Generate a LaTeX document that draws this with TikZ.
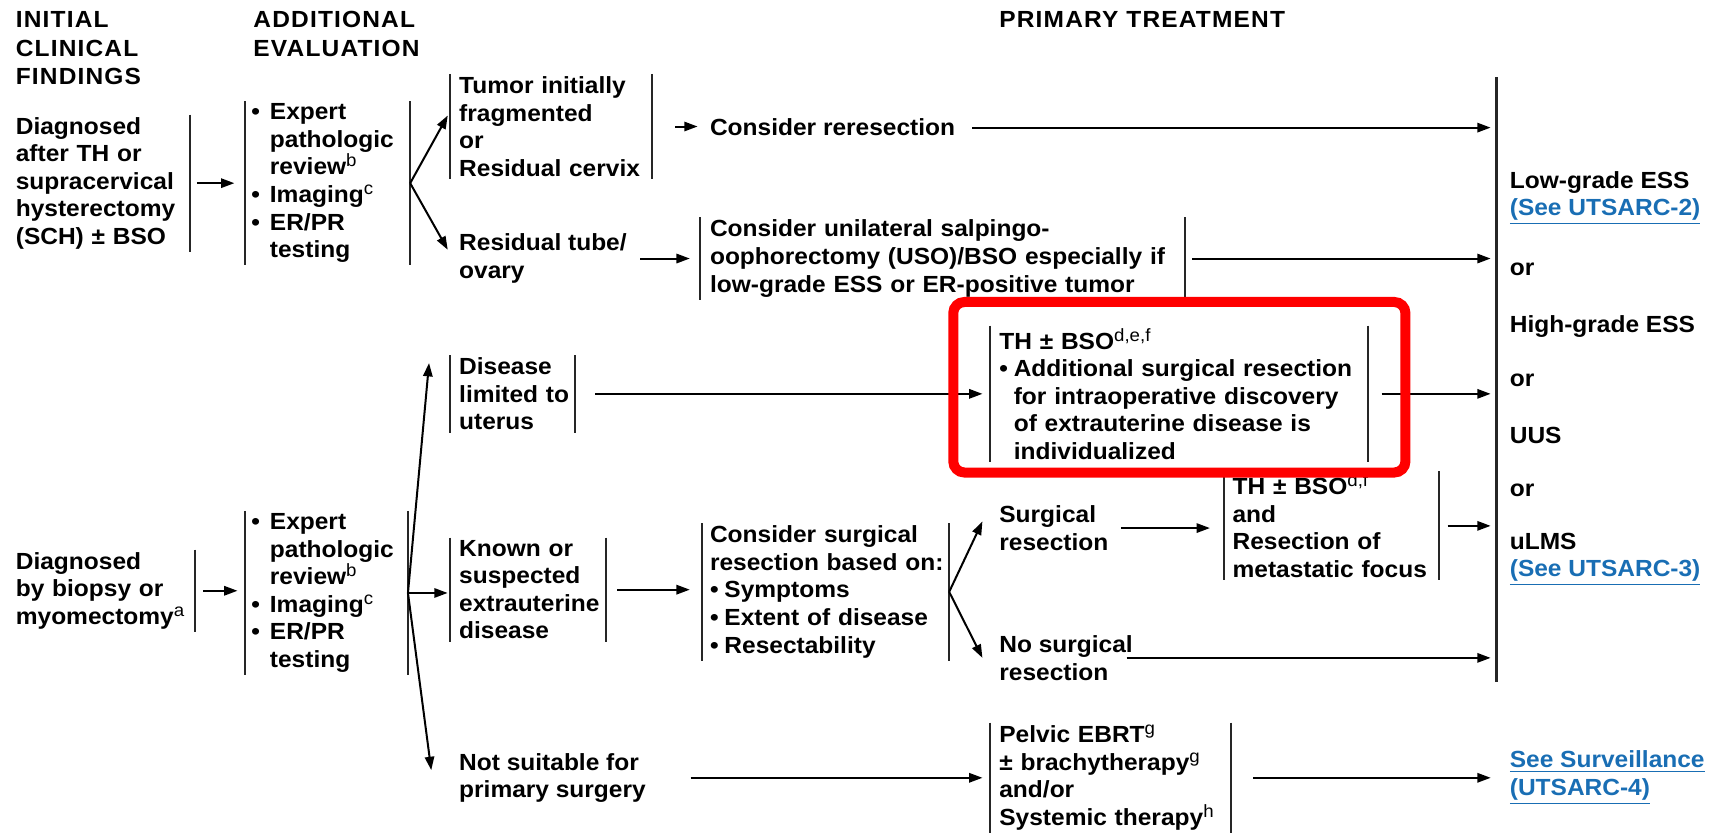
\documentclass[tikz,border=0pt]{standalone}
\usepackage{fontspec}
\setmainfont{Liberation Sans}[FakeStretch=1.05]
\newfontfamily\hdrfont{Liberation Sans}[FakeStretch=1.05,LetterSpace=5]
\usetikzlibrary{arrows.meta,calc}
\definecolor{linkblue}{RGB}{25,110,180}
\definecolor{hlred}{RGB}{255,0,0}
\newcommand{\bul}[1][6.5pt]{\makebox[#1][l]{\textbullet}}
\newcommand{\ind}[1][6.5pt]{\hspace*{#1}}
\newcommand{\sups}[1]{\raisebox{3.6pt}{\normalfont\fontsize{8pt}{8pt}\selectfont #1}}
\newcommand{\lnk}[1]{\textcolor{linkblue}{\underline{#1}}}
\begin{document}
\begin{tikzpicture}[x=0.495pt,y=-0.495pt,
  every node/.style={font=\fontsize{10.5pt}{12.4pt}\selectfont\bfseries},
  hdr/.style={inner sep=0pt, anchor=west, align=left, font=\hdrfont\fontsize{10.5pt}{12.9pt}\selectfont\bfseries},
  txt/.style={inner sep=0pt, anchor=west, align=left},
  bx/.style={txt, inner ysep=1pt, text width=#1},
  barln/.style={draw=black!85, line width=0.9pt},
  lbar/.style={append after command={([xshift=-#1]\tikzlastnode.north west) edge[barln] ([xshift=-#1]\tikzlastnode.south west)}},
  rbar/.style={append after command={(\tikzlastnode.north east) edge[barln] (\tikzlastnode.south east)}},
  arr/.style={draw=black, line width=0.9pt, -{Triangle[length=6pt,width=4.2pt]}},
]
\useasboundingbox (0,0) rectangle (1568,757);

% headers
\node[hdr] (h1) at (14,44) {INITIAL\\CLINICAL\\FINDINGS};
\node[hdr] (h2) at (230,31) {ADDITIONAL\\EVALUATION};
\node[hdr] (h3) at (908,18) {PRIMARY TREATMENT};

% upper branch
\node[bx=78.2pt, rbar] (n1) at (14,166.5) {Diagnosed\\after TH or\\supracervical\\hysterectomy\\(SCH) ± BSO};
\node[bx=71.3pt, lbar=2.5pt, rbar] (n2) at (228,166.5) {\bul[8.4pt]Expert\\\ind[8.4pt]pathologic\\\ind[8.4pt]review\sups{b}\\\bul[8.4pt]Imaging\sups{c}\\\bul[8.4pt]ER/PR\\\ind[8.4pt]testing};
\node[bx=86.6pt, lbar=4pt, rbar] (n3) at (417,115) {Tumor initially\\fragmented\\or\\Residual cervix};
\node[txt] (n4) at (417,235) {Residual tube/\\ovary};
\node[txt] (cr) at (645,116) {Consider reresection};
\node[bx=213.3pt, lbar=4.5pt, rbar] (n5) at (645,235) {Consider unilateral salpingo-\\oophorectomy (USO)/BSO especially if\\low-grade ESS or ER-positive tumor};

% lower branch
\node[bx=52pt, lbar=4pt, rbar] (n6) at (417,358) {Disease\\limited to\\uterus};
\node[bx=165.8pt, lbar=4pt, rbar] (n7) at (908,358) {TH ± BSO\sups{d,e,f}\\\bul Additional surgical resection\\\ind for intraoperative discovery\\\ind of extrauterine disease is\\\ind individualized};
\node[bx=80.2pt, rbar] (n2b) at (14,537) {Diagnosed\\by biopsy or\\myomectomy\sups{a}};
\node[bx=70.3pt, lbar=2.5pt, rbar] (n8) at (228,539) {\bul[8.4pt]Expert\\\ind[8.4pt]pathologic\\\ind[8.4pt]review\sups{b}\\\bul[8.4pt]Imaging\sups{c}\\\bul[8.4pt]ER/PR\\\ind[8.4pt]testing};
\node[bx=65.8pt, lbar=4pt, rbar] (n9) at (417,536) {Known or\\suspected\\extrauterine\\disease};
\node[bx=107.4pt, lbar=3.5pt, rbar] (n10) at (645,538) {Consider surgical\\resection based on:\\\bul Symptoms\\\bul Extent of disease\\\bul Resectability};
\node[txt] (sr) at (908,480) {Surgical\\resection};
\node[txt] (nsr) at (908,598) {No surgical\\resection};
\node[bx=92.6pt, lbar=3.5pt, rbar] (n12) at (1120,478) {TH ± BSO\sups{d,f}\\and\\Resection of\\metastatic focus};
\node[txt] (ns) at (417,707) {Not suitable for\\primary surgery};
\node[bx=104pt, lbar=4pt, rbar] (n14) at (908,707) {Pelvic EBRT\sups{g}\\± brachytherapy\sups{g}\\and/or\\Systemic therapy\sups{h}};

% right column
\coordinate (rbt) at (1360,70);
\coordinate (rbb) at (1360,620);
\draw[black!85, line width=1.2pt] (rbt) -- (rbb);
\node[txt] (rc1) at (1372,180) {Low-grade ESS\\\lnk{(See UTSARC-2)}};
\node[txt] (rc2) at (1372,245) {or};
\node[txt] (rc3) at (1372,297) {High-grade ESS};
\node[txt] (rc4) at (1372,346) {or};
\node[txt] (rc5) at (1372,396) {UUS};
\node[txt] (rc6) at (1372,446) {or};
\node[txt] (rc7) at (1372,508.5) {uLMS\\\lnk{(See UTSARC-3)}};
\node[txt] (surv) at (1372,707) {\lnk{See Surveillance}\\\lnk{(UTSARC-4)}};

% connectors
\draw[arr, shorten <=3pt, shorten >=7.4pt] (n1.east) -- (n1.east -| n2.west);
\draw[arr] (n2.east) -- ($(n3.west)+(-10,-10)$);
\draw[arr] (n2.east) -- ($(n4.west)+(-10,-8)$);
\draw[arr, shorten <=10.4pt, shorten >=5.4pt] (n3.east) -- (n3.east -| cr.west);
\draw[arr, shorten <=7.4pt, shorten >=2.5pt] (cr.east) -- (cr.east -| rbt);
\draw[arr, shorten <=6pt, shorten >=8.9pt] (n4.east) -- (n4.east -| n5.west);
\draw[arr, shorten <=3.5pt, shorten >=2.5pt] (n5.east) -- (n5.east -| rbt);
\draw[arr, shorten <=9pt, shorten >=7.4pt] (n6.east) -- (n6.east -| n7.west);
\draw[arr, shorten <=6pt, shorten >=2.5pt] (n7.east) -- (n7.east -| rbt);
\draw[arr, shorten <=4pt, shorten >=6pt] (n2b.east) -- (n2b.east -| n8.west);
\draw[arr] (n8.east) -- ($(n6.west)+(-27,-28)$);
\draw[arr, shorten >=5pt] (n8.east) -- (n8.east -| n9.west);
\draw[arr] (n8.east) -- ($(ns.west)+(-25,-7)$);
\draw[arr, shorten <=5pt, shorten >=8.9pt] (n9.east) -- (n9.east -| n10.west);
\draw[arr] (n10.east) -- ($(sr.west)+(-15,-6)$);
\draw[arr] (n10.east) -- ($(nsr.west)+(-15,0)$);
\draw[arr, shorten <=5.4pt, shorten >=10pt] (sr.east) -- (sr.east -| n12.west);
\draw[arr, shorten <=4pt, shorten >=2.5pt] (n12.east) -- (n12.east -| rbt);
\draw[arr, shorten <=-3pt, shorten >=2.5pt] (nsr.east) -- (nsr.east -| rbt);
\draw[arr, shorten <=20pt, shorten >=7.4pt] (ns.east) -- (ns.east -| n14.west);
\draw[arr, shorten <=10pt, shorten >=8.4pt] (n14.east) -- (n14.east -| surv.west);

% highlight frame
\draw[hlred, line width=4.5pt, rounded corners=5pt] (866.5,274.5) rectangle (1277.5,429.5);
\end{tikzpicture}
\end{document}
